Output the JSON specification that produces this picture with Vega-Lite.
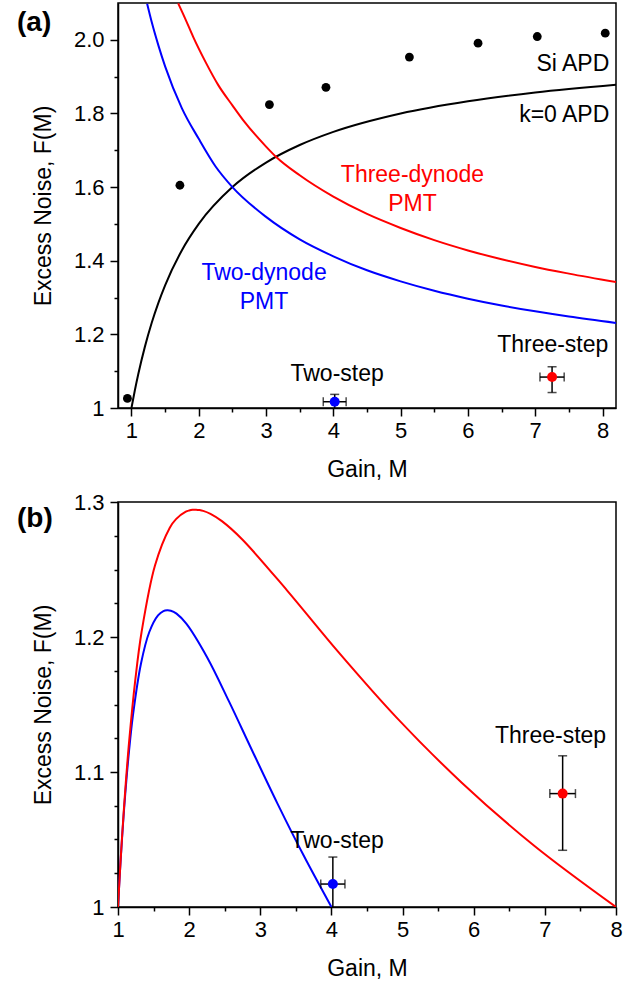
{
  "$schema": "https://vega.github.io/schema/vega-lite/v6.json",
  "background": "white",
  "padding": {"left": 16, "top": 2, "right": 5, "bottom": 5},
  "spacing": 8,
  "config": {
    "font": "Liberation Sans",
    "view": {"stroke": "black", "strokeWidth": 1.5},
    "axis": {
      "grid": false,
      "domainColor": "black",
      "domainWidth": 1.5,
      "tickColor": "black",
      "tickWidth": 1.5,
      "labelColor": "black",
      "titleColor": "black",
      "labelFont": "Liberation Sans",
      "titleFont": "Liberation Sans",
      "labelFontSize": 22,
      "titleFontSize": 23,
      "titleFontWeight": "normal",
      "labelFlush": false,
      "labelOverlap": false
    }
  },
  "datasets": {
    "siAPD": [
      {"M": 0.94, "F": 1.026}, {"M": 1.72, "F": 1.605}, {"M": 3.05, "F": 1.824},
      {"M": 3.89, "F": 1.871}, {"M": 5.13, "F": 1.953}, {"M": 6.15, "F": 1.991},
      {"M": 7.03, "F": 2.009}, {"M": 8.04, "F": 2.018}
    ],
    "k0APD": [
      {"M": 1.0, "F": 1.0}, {"M": 1.05, "F": 1.0476}, {"M": 1.1, "F": 1.0909},
      {"M": 1.2, "F": 1.1667}, {"M": 1.3, "F": 1.2308}, {"M": 1.4, "F": 1.2857},
      {"M": 1.5, "F": 1.3333}, {"M": 1.75, "F": 1.4286}, {"M": 2.0, "F": 1.5},
      {"M": 2.5, "F": 1.6}, {"M": 3.0, "F": 1.6667}, {"M": 3.5, "F": 1.7143},
      {"M": 4.0, "F": 1.75}, {"M": 5.0, "F": 1.8}, {"M": 6.0, "F": 1.8333},
      {"M": 7.0, "F": 1.8571}, {"M": 8.2, "F": 1.878}
    ],
    "twoDynode": [
      {"M": 1.233, "F": 2.098}, {"M": 1.3, "F": 2.049}, {"M": 1.4, "F": 1.985},
      {"M": 1.5, "F": 1.928}, {"M": 1.75, "F": 1.814}, {"M": 2.0, "F": 1.731},
      {"M": 2.25, "F": 1.656}, {"M": 2.5, "F": 1.6}, {"M": 3.0, "F": 1.519},
      {"M": 3.5, "F": 1.458}, {"M": 4.0, "F": 1.412}, {"M": 4.5, "F": 1.374},
      {"M": 5.0, "F": 1.344}, {"M": 5.5, "F": 1.3185}, {"M": 6.0, "F": 1.297},
      {"M": 6.5, "F": 1.2785}, {"M": 7.0, "F": 1.2625}, {"M": 7.5, "F": 1.2483},
      {"M": 8.2, "F": 1.231}
    ],
    "threeDynode": [
      {"M": 1.694, "F": 2.099}, {"M": 1.8, "F": 2.057}, {"M": 1.917, "F": 2.008},
      {"M": 2.1, "F": 1.94}, {"M": 2.29, "F": 1.877}, {"M": 2.5, "F": 1.822},
      {"M": 2.68, "F": 1.777}, {"M": 3.0, "F": 1.71}, {"M": 3.155, "F": 1.681},
      {"M": 3.5, "F": 1.632}, {"M": 4.0, "F": 1.574}, {"M": 4.5, "F": 1.527},
      {"M": 5.0, "F": 1.489}, {"M": 5.5, "F": 1.456}, {"M": 6.0, "F": 1.428},
      {"M": 6.5, "F": 1.404}, {"M": 7.0, "F": 1.383}, {"M": 7.5, "F": 1.365},
      {"M": 8.2, "F": 1.342}
    ],
    "twoStep": [
      {"M": 1.0, "F": 1.0}, {"M": 1.0201, "F": 1.0193}, {"M": 1.0404, "F": 1.0373},
      {"M": 1.0712, "F": 1.062}, {"M": 1.1025, "F": 1.0841}, {"M": 1.1556, "F": 1.1159},
      {"M": 1.21, "F": 1.142}, {"M": 1.3225, "F": 1.1802}, {"M": 1.44, "F": 1.2037},
      {"M": 1.5625, "F": 1.216}, {"M": 1.6384, "F": 1.2192}, {"M": 1.69, "F": 1.2198},
      {"M": 1.7424, "F": 1.2195}, {"M": 1.8225, "F": 1.2173},
      {"M": 1.96, "F": 1.2099}, {"M": 2.25, "F": 1.1852}, {"M": 2.56, "F": 1.1523},
      {"M": 2.89, "F": 1.1154}, {"M": 3.24, "F": 1.0768}, {"M": 3.61, "F": 1.0381},
      {"M": 4.0, "F": 1.0}
    ],
    "threeStep": [
      {"M": 1.0, "F": 1.0}, {"M": 1.0303, "F": 1.0288}, {"M": 1.0612, "F": 1.0554},
      {"M": 1.1087, "F": 1.0914}, {"M": 1.1576, "F": 1.1232}, {"M": 1.2423, "F": 1.1678},
      {"M": 1.331, "F": 1.2035}, {"M": 1.5209, "F": 1.2531}, {"M": 1.728, "F": 1.2809},
      {"M": 1.8158, "F": 1.2873}, {"M": 1.9531, "F": 1.2928}, {"M": 2.0004, "F": 1.2937},
      {"M": 2.0484, "F": 1.2942}, {"M": 2.0972, "F": 1.2943}, {"M": 2.1467, "F": 1.294},
      {"M": 2.197, "F": 1.2934}, {"M": 2.3, "F": 1.2912}, {"M": 2.4604, "F": 1.2858},
      {"M": 2.744, "F": 1.2724}, {"M": 3.375, "F": 1.2346}, {"M": 4.096, "F": 1.189},
      {"M": 4.913, "F": 1.1405}, {"M": 5.832, "F": 1.0921}, {"M": 6.859, "F": 1.045},
      {"M": 8.0, "F": 1.0}
    ],
    "steps": [
      {"step": "Two-step", "M": 4.02, "F": 1.017, "Mlo": 3.85, "Mhi": 4.19, "Flo": 0.997, "Fhi": 1.037},
      {"step": "Three-step", "M": 7.25, "F": 1.084, "Mlo": 7.07, "Mhi": 7.43, "Flo": 1.042, "Fhi": 1.112}
    ],
    "labelsA": [
      {"label": "Si APD", "M": 8.1, "F": 1.914},
      {"label": "k=0 APD", "M": 8.1, "F": 1.776},
      {"label": "Two-dynode\nPMT", "M": 2.97, "F": 1.347},
      {"label": "Three-dynode\nPMT", "M": 5.175, "F": 1.614},
      {"label": "Two-step", "M": 4.056, "F": 1.073},
      {"label": "Three-step", "M": 7.26, "F": 1.152}
    ],
    "labelsB": [
      {"label": "Two-step", "M": 4.08, "F": 1.044},
      {"label": "Three-step", "M": 7.08, "F": 1.1215}
    ]
  },
  "vconcat": [
    {
      "width": 498,
      "height": 405,
      "title": {"text": "(a)", "anchor": "start", "frame": "group", "orient": "top", "offset": -34, "dx": -101, "fontSize": 28, "fontWeight": "bold", "font": "Liberation Sans", "color": "black"},
      "layer": [
        {
          "layer": [
            {
              "data": {"name": "k0APD"},
              "mark": {"type": "line", "color": "black", "strokeWidth": 2, "interpolate": "monotone", "clip": true},
              "encoding": {
                "x": {"field": "M", "type": "quantitative", "title": "Gain, M", "scale": {"domain": [0.8, 8.2], "nice": false, "zero": false},
                  "axis": {"values": [1, 2, 3, 4, 5, 6, 7, 8], "format": "d", "tickSize": 8, "labelPadding": 4, "titlePadding": 17}},
                "y": {"field": "F", "type": "quantitative", "title": "Excess Noise, F(M)", "scale": {"domain": [1, 2.1], "nice": false, "zero": false},
                  "axis": {"values": [1, 1.2, 1.4, 1.6, 1.8, 2.0], "labelExpr": "datum.value == 1 ? '1' : format(datum.value, '.1f')", "tickSize": 8, "labelPadding": 6, "titlePadding": 18}}
              }
            },
            {
              "data": {"name": "twoDynode"},
              "mark": {"type": "line", "color": "#0000ff", "strokeWidth": 2, "interpolate": "monotone", "clip": true},
              "encoding": {"x": {"field": "M", "type": "quantitative", "title": "Gain, M"}, "y": {"field": "F", "type": "quantitative", "title": "Excess Noise, F(M)"}}
            },
            {
              "data": {"name": "threeDynode"},
              "mark": {"type": "line", "color": "#ff0000", "strokeWidth": 2, "interpolate": "monotone", "clip": true},
              "encoding": {"x": {"field": "M", "type": "quantitative", "title": "Gain, M"}, "y": {"field": "F", "type": "quantitative", "title": "Excess Noise, F(M)"}}
            },
            {
              "data": {"name": "siAPD"},
              "mark": {"type": "circle", "color": "black", "size": 78, "opacity": 1},
              "encoding": {"x": {"field": "M", "type": "quantitative", "title": "Gain, M"}, "y": {"field": "F", "type": "quantitative", "title": "Excess Noise, F(M)"}}
            },
            {
              "data": {"name": "steps"},
              "mark": {"type": "errorbar", "ticks": {"size": 9, "thickness": 1.5, "color": "black"}, "rule": {"strokeWidth": 1.5, "color": "black"}, "clip": true},
              "encoding": {"x": {"field": "M", "type": "quantitative", "title": "Gain, M"}, "y": {"field": "Flo", "type": "quantitative", "title": "Excess Noise, F(M)"}, "y2": {"field": "Fhi"}}
            },
            {
              "data": {"name": "steps"},
              "mark": {"type": "errorbar", "ticks": {"size": 9, "thickness": 1.5, "color": "black"}, "rule": {"strokeWidth": 1.5, "color": "black"}, "clip": true},
              "encoding": {"y": {"field": "F", "type": "quantitative", "title": "Excess Noise, F(M)"}, "x": {"field": "Mlo", "type": "quantitative", "title": "Gain, M"}, "x2": {"field": "Mhi"}}
            },
            {
              "data": {"name": "steps"},
              "mark": {"type": "circle", "size": 100, "opacity": 1},
              "encoding": {
                "x": {"field": "M", "type": "quantitative", "title": "Gain, M"},
                "y": {"field": "F", "type": "quantitative", "title": "Excess Noise, F(M)"},
                "color": {"field": "step", "type": "nominal", "scale": {"domain": ["Two-step", "Three-step"], "range": ["#0000ff", "#ff0000"]}, "legend": null}
              }
            },
            {
              "data": {"name": "labelsA"},
              "transform": [{"filter": "datum.label == 'Si APD' || datum.label == 'k=0 APD'"}],
              "mark": {"type": "text", "align": "right", "baseline": "alphabetic", "fontSize": 23, "color": "black"},
              "encoding": {"x": {"field": "M", "type": "quantitative", "title": "Gain, M"}, "y": {"field": "F", "type": "quantitative", "title": "Excess Noise, F(M)"}, "text": {"field": "label"}}
            },
            {
              "data": {"name": "labelsA"},
              "transform": [{"filter": "datum.label == 'Two-step' || datum.label == 'Three-step'"}],
              "mark": {"type": "text", "align": "center", "baseline": "alphabetic", "fontSize": 23, "color": "black"},
              "encoding": {"x": {"field": "M", "type": "quantitative", "title": "Gain, M"}, "y": {"field": "F", "type": "quantitative", "title": "Excess Noise, F(M)"}, "text": {"field": "label"}}
            },
            {
              "data": {"name": "labelsA"},
              "transform": [{"filter": "indexof(datum.label, 'Two-dynode') == 0"}],
              "mark": {"type": "text", "align": "center", "baseline": "alphabetic", "fontSize": 23, "color": "#0000ff", "lineBreak": "\n", "lineHeight": 29},
              "encoding": {"x": {"field": "M", "type": "quantitative", "title": "Gain, M"}, "y": {"field": "F", "type": "quantitative", "title": "Excess Noise, F(M)"}, "text": {"field": "label"}}
            },
            {
              "data": {"name": "labelsA"},
              "transform": [{"filter": "indexof(datum.label, 'Three-dynode') == 0"}],
              "mark": {"type": "text", "align": "center", "baseline": "alphabetic", "fontSize": 23, "color": "#ff0000", "lineBreak": "\n", "lineHeight": 29},
              "encoding": {"x": {"field": "M", "type": "quantitative", "title": "Gain, M"}, "y": {"field": "F", "type": "quantitative", "title": "Excess Noise, F(M)"}, "text": {"field": "label"}}
            }
          ]
        },
        {
          "data": {"name": "siAPD"},
          "mark": {"type": "point", "opacity": 0},
          "encoding": {
            "x": {"field": "M", "type": "quantitative", "scale": {"domain": [0.8, 8.2], "nice": false, "zero": false},
              "axis": {"orient": "bottom", "values": [1.5, 2.5, 3.5, 4.5, 5.5, 6.5, 7.5], "labels": false, "domain": false, "tickSize": 4, "title": null}},
            "y": {"field": "F", "type": "quantitative", "scale": {"domain": [1, 2.1], "nice": false, "zero": false},
              "axis": {"orient": "left", "values": [1.1, 1.3, 1.5, 1.7, 1.9], "labels": false, "domain": false, "tickSize": 4, "title": null}}
          }
        }
      ],
      "resolve": {"axis": {"x": "independent", "y": "independent"}}
    },
    {
      "width": 498,
      "height": 405,
      "title": {"text": "(b)", "anchor": "start", "frame": "group", "orient": "top", "offset": -42, "dx": -101, "fontSize": 28, "fontWeight": "bold", "font": "Liberation Sans", "color": "black"},
      "layer": [
        {
          "layer": [
            {
              "data": {"name": "twoStep"},
              "mark": {"type": "line", "color": "#0000ff", "strokeWidth": 2, "interpolate": "catmull-rom", "clip": true},
              "encoding": {
                "x": {"field": "M", "type": "quantitative", "title": "Gain, M", "scale": {"domain": [1, 8], "nice": false, "zero": false},
                  "axis": {"values": [1, 2, 3, 4, 5, 6, 7, 8], "format": "d", "tickSize": 8, "labelPadding": 4, "titlePadding": 17}},
                "y": {"field": "F", "type": "quantitative", "title": "Excess Noise, F(M)", "scale": {"domain": [1, 1.3], "nice": false, "zero": false},
                  "axis": {"values": [1, 1.1, 1.2, 1.3], "labelExpr": "datum.value == 1 ? '1' : format(datum.value, '.1f')", "tickSize": 8, "labelPadding": 6, "titlePadding": 18}}
              }
            },
            {
              "data": {"name": "threeStep"},
              "mark": {"type": "line", "color": "#ff0000", "strokeWidth": 2, "interpolate": "catmull-rom", "clip": true},
              "encoding": {"x": {"field": "M", "type": "quantitative", "title": "Gain, M"}, "y": {"field": "F", "type": "quantitative", "title": "Excess Noise, F(M)"}}
            },
            {
              "data": {"name": "steps"},
              "mark": {"type": "errorbar", "ticks": {"size": 9, "thickness": 1.5, "color": "black"}, "rule": {"strokeWidth": 1.5, "color": "black"}, "clip": true},
              "encoding": {"x": {"field": "M", "type": "quantitative", "title": "Gain, M"}, "y": {"field": "Flo", "type": "quantitative", "title": "Excess Noise, F(M)"}, "y2": {"field": "Fhi"}}
            },
            {
              "data": {"name": "steps"},
              "mark": {"type": "errorbar", "ticks": {"size": 9, "thickness": 1.5, "color": "black"}, "rule": {"strokeWidth": 1.5, "color": "black"}, "clip": true},
              "encoding": {"y": {"field": "F", "type": "quantitative", "title": "Excess Noise, F(M)"}, "x": {"field": "Mlo", "type": "quantitative", "title": "Gain, M"}, "x2": {"field": "Mhi"}}
            },
            {
              "data": {"name": "steps"},
              "mark": {"type": "circle", "size": 100, "opacity": 1},
              "encoding": {
                "x": {"field": "M", "type": "quantitative", "title": "Gain, M"},
                "y": {"field": "F", "type": "quantitative", "title": "Excess Noise, F(M)"},
                "color": {"field": "step", "type": "nominal", "scale": {"domain": ["Two-step", "Three-step"], "range": ["#0000ff", "#ff0000"]}, "legend": null}
              }
            },
            {
              "data": {"name": "labelsB"},
              "mark": {"type": "text", "align": "center", "baseline": "alphabetic", "fontSize": 23, "color": "black"},
              "encoding": {"x": {"field": "M", "type": "quantitative", "title": "Gain, M"}, "y": {"field": "F", "type": "quantitative", "title": "Excess Noise, F(M)"}, "text": {"field": "label"}}
            }
          ]
        },
        {
          "data": {"name": "steps"},
          "mark": {"type": "point", "opacity": 0},
          "encoding": {
            "x": {"field": "M", "type": "quantitative", "scale": {"domain": [1, 8], "nice": false, "zero": false},
              "axis": {"orient": "bottom", "values": [1.5, 2.5, 3.5, 4.5, 5.5, 6.5, 7.5], "labels": false, "domain": false, "tickSize": 4, "title": null}},
            "y": {"field": "F", "type": "quantitative", "scale": {"domain": [1, 1.3], "nice": false, "zero": false},
              "axis": {"orient": "left", "values": [1.025, 1.05, 1.075, 1.125, 1.15, 1.175, 1.225, 1.25, 1.275], "labels": false, "domain": false, "tickSize": 4, "title": null}}
          }
        }
      ],
      "resolve": {"axis": {"x": "independent", "y": "independent"}}
    }
  ]
}
